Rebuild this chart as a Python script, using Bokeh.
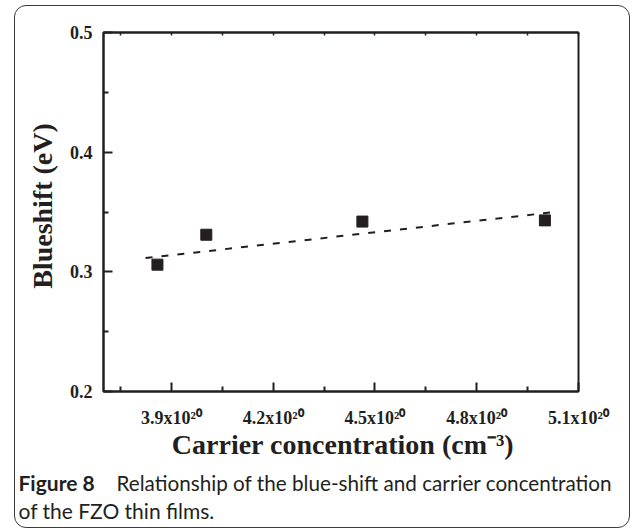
import math
from bokeh.plotting import figure
from bokeh.models import Label, LinearAxis, FixedTicker, Range1d
from bokeh.embed import file_html
from bokeh.resources import INLINE

# ---- data ----
carrier = [3.859, 4.003, 4.463, 5.001]          # x10^20 cm^-3
blueshift = [0.306, 0.331, 0.342, 0.343]        # eV
fit_x = [3.824, 5.022]
fit_y = [0.3115, 0.3497]

x_major = [3.9, 4.2, 4.5, 4.8, 5.1]
x_minor = [3.75, 4.05, 4.35, 4.65, 4.95]
x_tick_text = ["3.9x10²⁰", "4.2x10²⁰", "4.5x10²⁰", "4.8x10²⁰", "5.1x10²⁰"]
y_major = [0.2, 0.3, 0.4, 0.5]
y_minor = [0.25, 0.35, 0.45]
y_tick_text = ["0.2", "0.3", "0.4", "0.5"]

x_title = "Carrier concentration (cm⁻³)"
y_title = "Blueshift (eV)"
cap_head = "Figure 8"
cap_line1 = "Relationship of the blue-shift and carrier concentration"
cap_line2 = "of the FZO thin films."

INK = "#231f20"
SERIF = "Liberation Serif"
SANS = "Lato"

# figure canvas sits inside a rounded border (offset OX, OY on the page)
OX, OY = 15, 6
W, H = 616, 523
FL, FR, FT, FB = 103 - OX, 578 - OX, 32 - OY, 391 - OY   # frame edges, canvas px

p = figure(width=W, height=H, x_range=Range1d(3.7, 5.1), y_range=Range1d(0.2, 0.5),
           output_backend="svg", toolbar_location=None,
           min_border_left=FL, min_border_right=W - FR,
           min_border_top=FT, min_border_bottom=H - FB,
           background_fill_color="white", border_fill_color=None)
p.styles = {"margin-left": "13.5px", "margin-top": "4.5px",
            "border": "1.5px solid #3a3a3a", "border-radius": "12px"}
p.grid.visible = False
p.outline_line_color = INK
p.outline_line_width = 2

def style_axis(ax):
    ax.axis_line_color = INK
    ax.axis_line_width = 2
    ax.major_tick_in = 9
    ax.major_tick_out = 0
    ax.minor_tick_in = 5
    ax.minor_tick_out = 0
    ax.major_tick_line_color = INK
    ax.minor_tick_line_color = INK
    ax.major_tick_line_width = 2
    ax.minor_tick_line_width = 2
    ax.major_label_text_font = SERIF
    ax.major_label_text_font_style = "bold"
    ax.major_label_text_font_size = "18px"
    ax.major_label_text_color = INK

xa = p.xaxis[0]
xa.ticker = FixedTicker(ticks=x_major, minor_ticks=x_minor)
xa.major_label_overrides = {v: t for v, t in zip(x_major, x_tick_text)}
style_axis(xa)
xa.major_label_standoff = 16

ya = p.yaxis[0]
ya.ticker = FixedTicker(ticks=y_major, minor_ticks=y_minor)
ya.major_label_overrides = {v: t for v, t in zip(y_major, y_tick_text)}
style_axis(ya)
ya.major_label_standoff = 11

top_ticks = sorted(x_major + x_minor)
top = LinearAxis(ticker=FixedTicker(ticks=top_ticks, minor_ticks=[]),
                 major_label_text_font_size="0px", major_label_standoff=0,
                 axis_line_color=INK, axis_line_width=2,
                 major_tick_in=3, major_tick_out=0, major_tick_line_color=INK,
                 major_tick_line_width=1.5, minor_tick_line_color=None)
top.major_label_overrides = {v: "" for v in top_ticks}
p.add_layout(top, "above")

# data
p.line(fit_x, fit_y, line_color=INK, line_width=2, line_dash="7 9")
p.scatter(carrier, blueshift, marker="square", size=11, fill_color=INK, line_color=INK)

def cx(x):
    return x - OX

def cy(y):
    return y - OY

# axis titles
p.add_layout(Label(x=cx(341.5), y=cy(443), x_units="canvas", y_units="canvas",
                   text=x_title, text_align="center", text_baseline="alphabetic",
                   text_font=SERIF, text_font_style="bold", text_font_size="28px",
                   text_color=INK), "below")
p.add_layout(Label(x=cx(41), y=cy(204.5), x_units="canvas", y_units="canvas",
                   text=y_title, angle=math.pi / 2, text_align="center",
                   text_baseline="alphabetic", text_font=SERIF, text_font_style="bold",
                   text_font_size="28px", text_color=INK), "left")

# caption (placed by canvas coordinates; panels only hold them)
p.add_layout(Label(x=cx(17), y=cy(481), x_units="canvas", y_units="canvas",
                   text=cap_head, text_align="left", text_baseline="alphabetic",
                   text_font=SANS, text_font_style="bold", text_font_size="21px",
                   text_color=INK), "below")
p.add_layout(Label(x=cx(115), y=cy(481), x_units="canvas", y_units="canvas",
                   text=cap_line1, text_align="left", text_baseline="alphabetic",
                   text_font=SANS, text_font_size="20.7px", text_color=INK), "below")
p.add_layout(Label(x=cx(17), y=cy(509), x_units="canvas", y_units="canvas",
                   text=cap_line2, text_align="left", text_baseline="alphabetic",
                   text_font=SANS, text_font_size="21px", text_color=INK,
                   text_line_height=0.9), "above")

open("out.html", "w").write(file_html(p, INLINE))
